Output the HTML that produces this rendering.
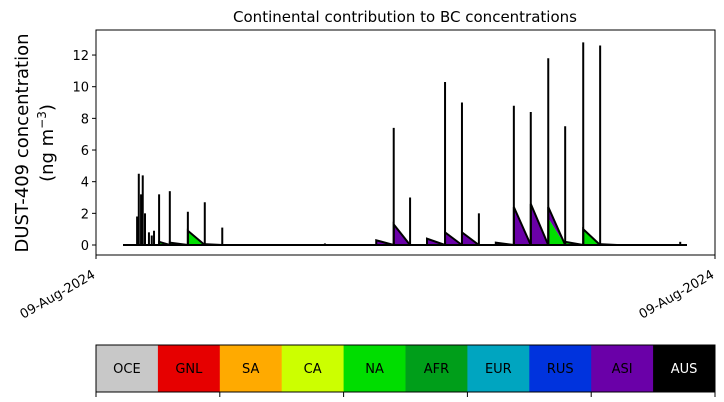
<!DOCTYPE html>
<html><head><meta charset="utf-8"><style>
body{margin:0;background:#fff}
svg{display:block;font-family:"DejaVu Sans","Liberation Sans",sans-serif}
</style></head><body>
<svg id="c" width="724" height="402"></svg>
<script>
const spikeTimes=[2.5,2.8,3.2,3.5,3.9,4.6,5.1,5.5,6.4,8.3,11.5,14.5,17.6,35.8,48.0,50.9,57.1,60.1,63.1,69.3,72.3,75.4,78.4,81.6,84.6,98.8];
const spikeHeights=[1.8,4.5,3.2,4.4,2.0,0.8,0.6,0.9,3.2,3.4,2.1,2.7,1.1,0.1,7.4,3.0,10.3,9.0,2.0,8.8,8.4,11.8,7.5,12.8,12.6,0.2];
const toothTimes=[6.4,8.3,11.5,14.5,17.6,44.9,48.0,50.9,53.9,57.1,60.1,63.1,66.1,69.3,72.3,75.4,78.4,81.6,84.6,87.6];
const asiValues=[0,0,0,0,0,0.3,1.3,0,0.4,0.8,0.8,0,0.15,2.4,2.6,0.7,0,0,0,0];
const naValues=[0.2,0.15,0.9,0.05,0,0,0,0,0,0,0,0,0,0,0,1.7,0.2,1.0,0.05,0];
const yTicks=[0,2,4,6,8,10,12];
const legendLabels=["OCE","GNL","SA","CA","NA","AFR","EUR","RUS","ASI","AUS"];
const legendColors=["#c8c8c8","#e60000","#ffaa00","#ccff00","#00dd00","#009e1a","#00a5c0","#0033dd","#6a00a8","#000000"];

const svg=document.getElementById('c');
const NS='http://www.w3.org/2000/svg';
function el(t,a,p){const e=document.createElementNS(NS,t);for(const k in a)e.setAttribute(k,a[k]);(p||svg).appendChild(e);return e;}
const X0=96,X1=715,Y0=30,Y1=255;
const xs=t=>123+t*5.64;
const ys=v=>245-v*15.83;

const title=el('text',{x:405,y:22,'text-anchor':'middle','font-size':15});
title.textContent='Continental contribution to BC concentrations';



for(let i=0;i<toothTimes.length;i++){
  const t0=toothTimes[i],t1=i+1<toothTimes.length?toothTimes[i+1]:t0+3;
  const na=naValues[i],asi=asiValues[i];
  if(na>0){const p=el('polygon',{points:`${xs(t0)},${ys(0)} ${xs(t0)},${ys(na)} ${xs(t1)},${ys(0)}`,fill:'#00dd00'});
    }
  if(asi>0){const p=el('polygon',{points:`${xs(t0)},${ys(na)} ${xs(t0)},${ys(na+asi)} ${xs(t1)},${ys(0)}`,fill:'#6a00a8'});
    }
  if(na+asi>0){const l=el('polyline',{points:`${xs(t0)},${ys(0)} ${xs(t0)},${ys(na+asi)} ${xs(t1)},${ys(0)}`,fill:'none',stroke:'#000','stroke-width':2});
    }
}
const base=el('line',{x1:xs(0),y1:ys(0),x2:xs(100),y2:ys(0),stroke:'#000','stroke-width':2});

for(let i=0;i<spikeTimes.length;i++){
  const l=el('line',{x1:xs(spikeTimes[i]),y1:ys(0),x2:xs(spikeTimes[i]),y2:ys(spikeHeights[i]),stroke:'#000','stroke-width':2});
  
}
const frame=el('rect',{x:X0,y:Y0,width:X1-X0,height:Y1-Y0,fill:'none',stroke:'#000','stroke-width':1});

yTicks.forEach(v=>{
  el('line',{x1:X0-4,x2:X0,y1:ys(v),y2:ys(v),stroke:'#000'});
  const t=el('text',{x:X0-7,y:ys(v)+5,'text-anchor':'end','font-size':13});t.textContent=v;
  
});
[X0,X1].forEach(x=>{
  el('line',{x1:x,x2:x,y1:Y1,y2:Y1+4,stroke:'#000'});
  const t=el('text',{x:x,y:Y1+22,'text-anchor':'end','font-size':13,transform:`rotate(-30 ${x} ${Y1+22})`});
  t.textContent='09-Aug-2024';
  
});
const yl=el('text',{transform:'translate(28,143) rotate(-90)','text-anchor':'middle','font-size':18});
yl.textContent='DUST-409 concentration';

const yl2=el('text',{transform:'translate(53,143) rotate(-90)','text-anchor':'middle','font-size':18});
yl2.innerHTML='(ng m<tspan font-size="12" dy="-7">−3</tspan><tspan dy="7">)</tspan>';


const bw=(X1-X0)/legendLabels.length;
legendLabels.forEach((lab,i)=>{
  const r=el('rect',{x:X0+i*bw,y:345,width:bw+0.5,height:47,fill:legendColors[i]});
  
  const t=el('text',{x:X0+(i+0.5)*bw,y:373,'text-anchor':'middle','font-size':13,fill:lab==='AUS'?'#fff':'#000'});
  t.textContent=lab;
  
});
el('rect',{x:X0,y:345,width:X1-X0,height:47,fill:'none',stroke:'#000','stroke-width':1});
for(let i=0;i<=5;i++){const x=X0+i*2*bw;el('line',{x1:x,x2:x,y1:392,y2:397,stroke:'#000'});}
</script>
</body></html>
